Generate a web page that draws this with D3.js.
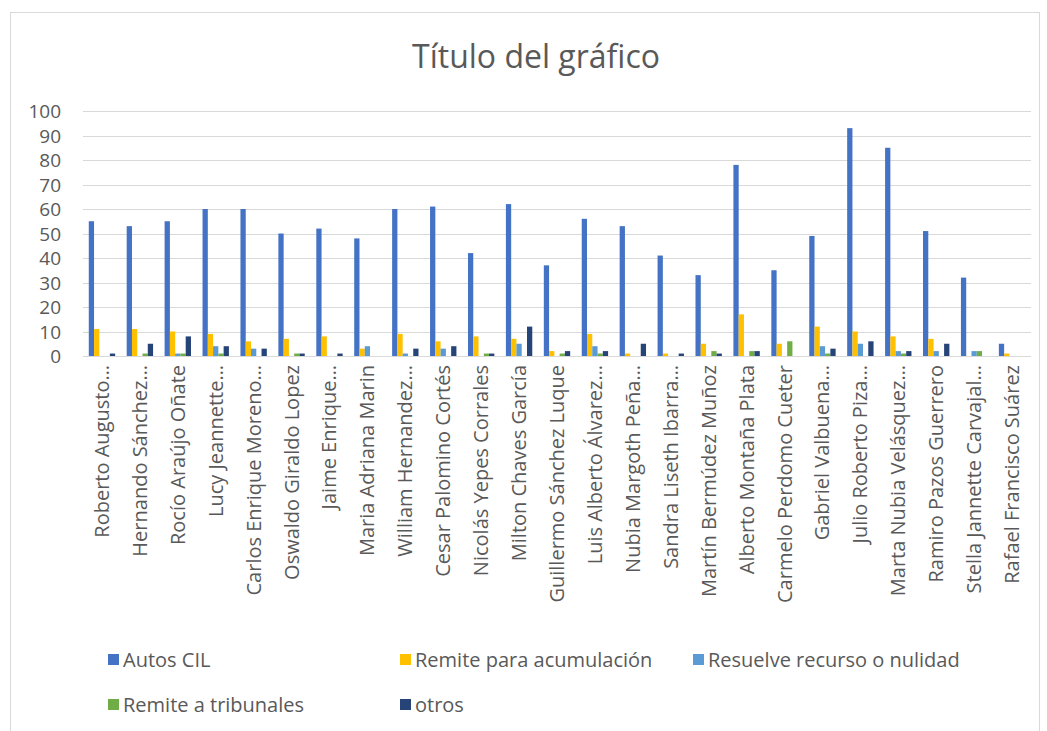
<!DOCTYPE html>
<html>
<head>
<meta charset="utf-8">
<script src="https://cdn.jsdelivr.net/npm/d3@7"></script>
<style>
  body { margin: 0; background: #fff; }
  svg text { font-family: "Open Sans", "Noto Sans", sans-serif; fill: #595959; }
</style>
</head>
<body>
<div id="chart"></div>
<script>
const categories = [
  "Roberto Augusto…", "Hernando Sánchez…", "Rocío Araújo Oñate", "Lucy Jeannette…",
  "Carlos Enrique Moreno…", "Oswaldo Giraldo Lopez", "Jaime Enrique…", "Maria Adriana Marin",
  "William Hernandez…", "Cesar Palomino Cortés", "Nicolás Yepes Corrales", "Milton Chaves García",
  "Guillermo Sánchez Luque", "Luis Alberto Álvarez…", "Nubia Margoth Peña…", "Sandra Liseth Ibarra…",
  "Martín Bermúdez Muñoz", "Alberto Montaña Plata", "Carmelo Perdomo Cueter", "Gabriel Valbuena…",
  "Julio Roberto Piza…", "Marta Nubia Velásquez…", "Ramiro Pazos Guerrero", "Stella Jannette Carvajal…",
  "Rafael Francisco Suárez"
];
const seriesNames = ["Autos CIL", "Remite para acumulación", "Resuelve recurso o nulidad", "Remite a tribunales", "otros"];
const autosCIL    = [55, 53, 55, 60, 60, 50, 52, 48, 60, 61, 42, 62, 37, 56, 53, 41, 33, 78, 35, 49, 93, 85, 51, 32, 5];
const remiteAcum  = [11, 11, 10, 9, 6, 7, 8, 3, 9, 6, 8, 7, 2, 9, 1, 1, 5, 17, 5, 12, 10, 8, 7, 0, 1];
const resuelve    = [0, 0, 1, 4, 3, 0, 0, 4, 1, 3, 0, 5, 0, 4, 0, 0, 0, 0, 0, 4, 5, 2, 2, 2, 0];
const tribunales  = [0, 1, 1, 1, 0, 1, 0, 0, 0, 0, 1, 0, 1, 1, 0, 0, 2, 2, 6, 1, 0, 1, 0, 2, 0];
const otros       = [1, 5, 8, 4, 3, 1, 1, 0, 3, 4, 1, 12, 2, 2, 5, 1, 1, 2, 0, 3, 6, 2, 5, 0, 0];
const yTicks = [0, 10, 20, 30, 40, 50, 60, 70, 80, 90, 100];
const colors = ["#4472C4", "#FFC000", "#5B9BD5", "#70AD47", "#264478"];

const series = [autosCIL, remiteAcum, resuelve, tribunales, otros];
const W = 1047, H = 731;
const plot = {left: 83, right: 1031, top: 111, bottom: 356};

const svg = d3.select("#chart").append("svg").attr("width", W).attr("height", H);

// chart frame
svg.append("rect").attr("x", 10.5).attr("y", 12.5).attr("width", 1029).attr("height", 740)
  .attr("fill", "#fff").attr("stroke", "#D9D9D9");

svg.append("text").attr("x", 536).attr("y", 68).attr("text-anchor", "middle")
  .style("font-size", "32px").text("Título del gráfico");

const x = d3.scaleBand().domain(categories).range([plot.left, plot.right]);
const groupW = x.bandwidth() * 5 / 7.19;
const xs = d3.scaleBand().domain(d3.range(5))
  .range([(x.bandwidth() - groupW) / 2, (x.bandwidth() + groupW) / 2]);
const y = d3.scaleLinear().domain([0, 100]).range([plot.bottom, plot.top]);

// gridlines
svg.append("g").selectAll("line").data(yTicks).join("line")
  .attr("x1", plot.left).attr("x2", plot.right)
  .attr("y1", d => Math.round(y(d)) + 0.5).attr("y2", d => Math.round(y(d)) + 0.5)
  .attr("stroke", "#D9D9D9").attr("stroke-width", 1);

// y axis labels
const yAxis = d3.axisLeft(y).tickValues(yTicks).tickSize(0).tickPadding(0);
const gy = svg.append("g").attr("transform", `translate(${plot.left - 22},0)`).call(yAxis);
gy.select(".domain").remove();
gy.selectAll("text").style("font-size", "19px").attr("fill", "#595959").attr("dy", "0.35em");

// bars
series.forEach((vals, si) => {
  svg.append("g").selectAll("rect").data(vals).join("rect")
    .attr("x", (d, i) => x(categories[i]) + xs(si))
    .attr("width", xs.bandwidth())
    .attr("y", d => y(d))
    .attr("height", d => y(0) - y(d))
    .attr("fill", colors[si]);
});

// category labels (rotated)
const xAxis = d3.axisBottom(x).tickSize(0).tickPadding(0);
const gx = svg.append("g").attr("transform", `translate(0,${plot.bottom})`).call(xAxis);
gx.select(".domain").remove();
gx.selectAll("text")
  .style("font-size", "20px").attr("fill", "#595959")
  .attr("text-anchor", "end")
  .attr("transform", "rotate(-90)")
  .attr("x", -9).attr("y", 0).attr("dy", "0.35em");

// legend
const legendItems = [
  {name: seriesNames[0], c: colors[0], x: 108, y: 660},
  {name: seriesNames[1], c: colors[1], x: 400, y: 660},
  {name: seriesNames[2], c: colors[2], x: 693, y: 660},
  {name: seriesNames[3], c: colors[3], x: 108, y: 705},
  {name: seriesNames[4], c: colors[4], x: 400, y: 705}
];
const lg = svg.append("g").selectAll("g").data(legendItems).join("g")
  .attr("transform", d => `translate(${d.x},${d.y})`);
lg.append("rect").attr("x", 0).attr("y", -6).attr("width", 11).attr("height", 11).attr("fill", d => d.c);
lg.append("text").attr("x", 15).attr("y", 0).attr("dy", "0.35em")
  .style("font-size", "20px").text(d => d.name);
</script>
</body>
</html>
